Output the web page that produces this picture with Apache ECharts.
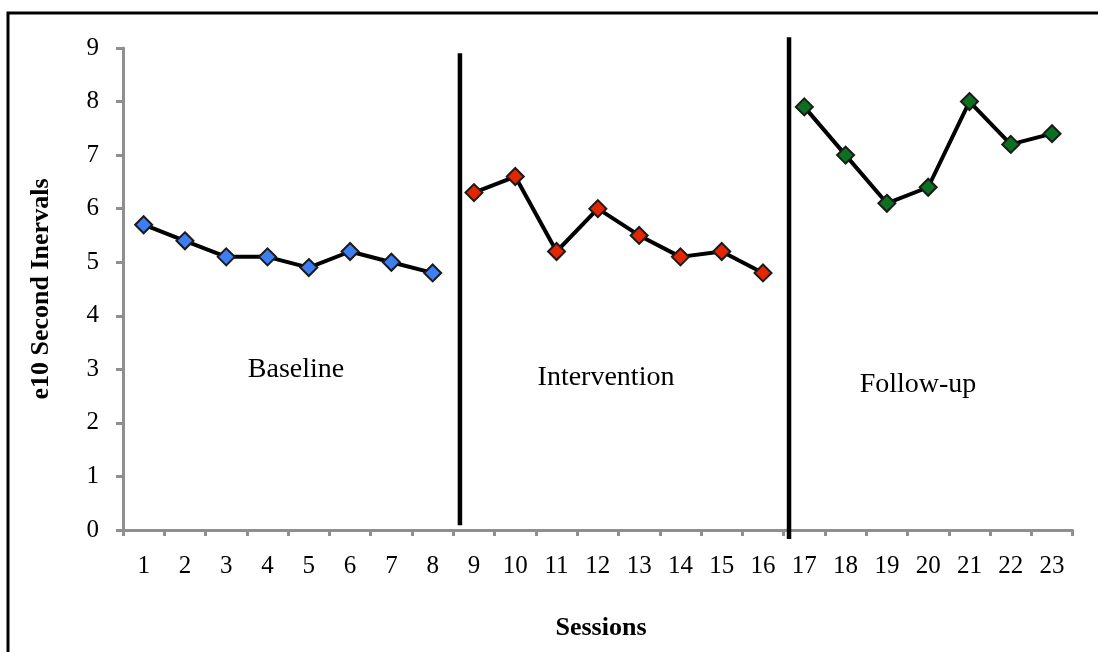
<!DOCTYPE html>
<html>
<head>
<meta charset="utf-8">
<script src="https://cdn.jsdelivr.net/npm/echarts@6/dist/echarts.min.js"></script>
<style>html,body{margin:0;padding:0;background:#fff;}#c{width:1098px;height:652px;}</style>
</head>
<body>
<div id="c"></div>
<script>
// ---- data ----
const sessions = ['1','2','3','4','5','6','7','8','9','10','11','12','13','14','15','16','17','18','19','20','21','22','23'];
const baselineSessions = [1,2,3,4,5,6,7,8];
const baselineValues = [5.7,5.4,5.1,5.1,4.9,5.2,5.0,4.8];
const interventionSessions = [9,10,11,12,13,14,15,16];
const interventionValues = [6.3,6.6,5.2,6.0,5.5,5.1,5.2,4.8];
const followUpSessions = [17,18,19,20,21,22,23];
const followUpValues = [7.9,7.0,6.1,6.4,8.0,7.2,7.4];
const yTicks = [0,1,2,3,4,5,6,7,8,9];
// phase change lines: [x position in session units (0..23 scale), y]
const phaseLine1 = [[8.16, 8.9], [8.16, 0.09]];
const phaseLine2 = [[16.13, 9.2], [16.13, -0.17]];
const phaseLabels = ['Baseline', 'Intervention', 'Follow-up'];

const FONT = '"Liberation Serif", "Times New Roman", serif';
const pairs = (s, v) => s.map((x, i) => [x - 0.5, v[i]]);
const axisGrey = '#8f8f8f';

const chart = echarts.init(document.getElementById('c'));
function dataSeries(name, s, v, color) {
  return {
    name, type: 'line', xAxisIndex: 1, yAxisIndex: 0,
    data: pairs(s, v),
    symbol: 'diamond', symbolSize: 17,
    lineStyle: { color: '#000', width: 4 },
    itemStyle: { color: color, borderColor: '#1a1a1a', borderWidth: 2 },
    z: 3, animation: false
  };
}
function phaseSeries(d) {
  return {
    type: 'line', xAxisIndex: 1, yAxisIndex: 0, data: d, symbol: 'none',
    lineStyle: { color: '#000', width: 4.5 }, clip: false, z: 2, animation: false
  };
}
chart.setOption({
  animation: false,
  backgroundColor: '#fff',
  grid: { left: 123, top: 48, width: 949.7, height: 482 },
  xAxis: [
    {
      type: 'category', data: sessions, boundaryGap: true,
      axisLine: { lineStyle: { color: axisGrey, width: 3 } },
      axisTick: { show: true, length: 6, lineStyle: { color: axisGrey, width: 3 }, alignWithLabel: false },
      axisLabel: { color: '#000', fontFamily: FONT, fontSize: 25, margin: 24 },
      splitLine: { show: false }
    },
    { type: 'value', min: 0, max: 23, show: false, splitLine: { show: false } }
  ],
  yAxis: {
    type: 'value', min: 0, max: 9, interval: 1,
    axisLine: { show: true, lineStyle: { color: axisGrey, width: 3 } },
    axisTick: { show: true, length: 7, lineStyle: { color: axisGrey, width: 3 } },
    axisLabel: { color: '#000', fontFamily: FONT, fontSize: 25, margin: 24,
      formatter: v => yTicks.includes(v) ? String(v) : '' },
    splitLine: { show: false }
  },
  series: [
    phaseSeries(phaseLine1),
    phaseSeries(phaseLine2),
    dataSeries('Baseline', baselineSessions, baselineValues, '#3d7ef2'),
    dataSeries('Intervention', interventionSessions, interventionValues, '#e42600'),
    dataSeries('Follow-up', followUpSessions, followUpValues, '#0b7020')
  ],
  graphic: [
    { type: 'rect', shape: { x: 8, y: 13, width: 1300, height: 1000 },
      style: { fill: 'none', stroke: '#000', lineWidth: 3 }, silent: true },
    { type: 'text', x: 296, y: 370, style: { text: phaseLabels[0], font: '28px ' + FONT, fill: '#000', textAlign: 'center', textVerticalAlign: 'middle' } },
    { type: 'text', x: 606, y: 378, style: { text: phaseLabels[1], font: '28px ' + FONT, fill: '#000', textAlign: 'center', textVerticalAlign: 'middle' } },
    { type: 'text', x: 918, y: 385, style: { text: phaseLabels[2], font: '28px ' + FONT, fill: '#000', textAlign: 'center', textVerticalAlign: 'middle' } },
    { type: 'text', x: 601, y: 628, style: { text: 'Sessions', font: 'bold 26px ' + FONT, fill: '#000', textAlign: 'center', textVerticalAlign: 'middle' } },
    { type: 'text', x: 41, y: 289, rotation: Math.PI / 2, style: { text: 'e10 Second Inervals', font: 'bold 26px ' + FONT, fill: '#000', textAlign: 'center', textVerticalAlign: 'middle' } }
  ]
});
</script>
</body>
</html>
